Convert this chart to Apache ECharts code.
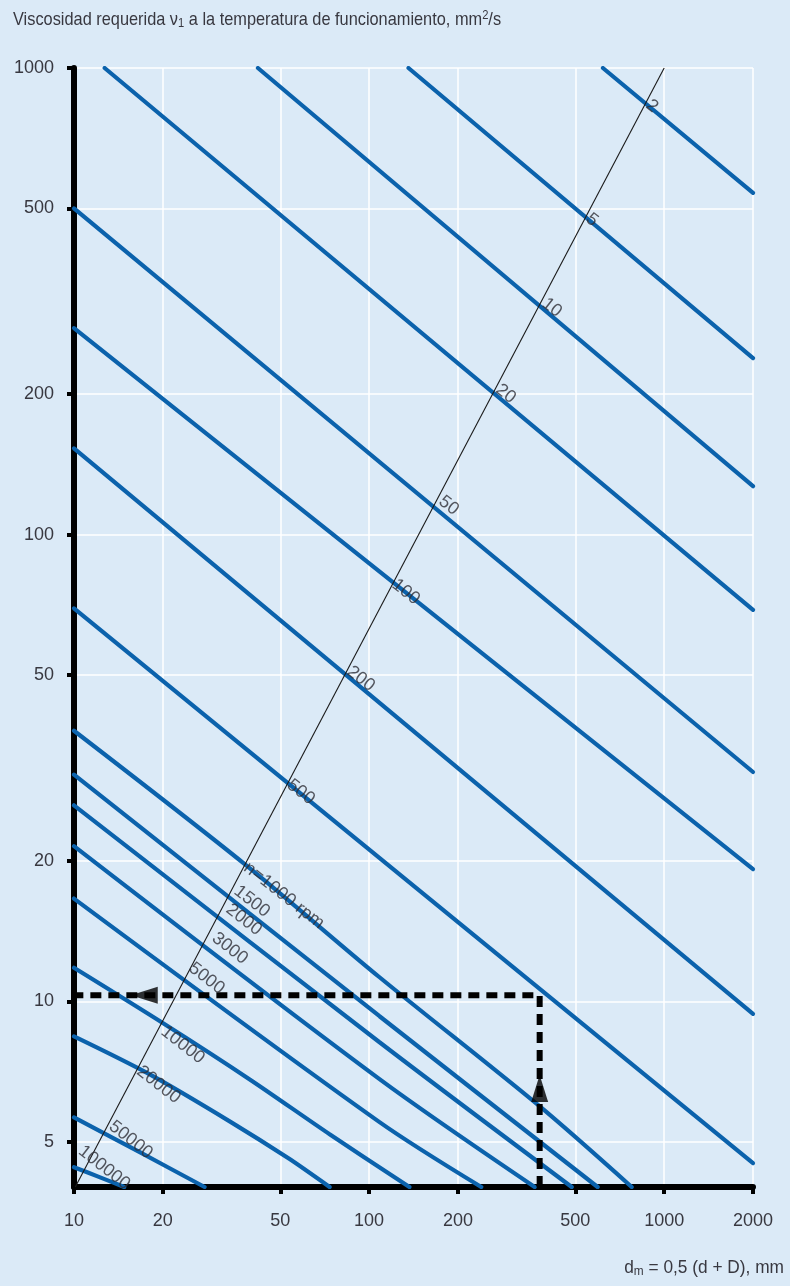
<!DOCTYPE html>
<html><head><meta charset="utf-8">
<script src="https://cdn.jsdelivr.net/npm/echarts@6/dist/echarts.min.js"></script>
<style>html,body{margin:0;padding:0;background:#dbeaf7}#c{width:790px;height:1286px}</style>
</head><body><div id="c"></div>
<script>
// Tick values
const xTicks = [10, 20, 50, 100, 200, 500, 1000, 2000];
const yTicks = [5, 10, 20, 50, 100, 200, 500, 1000];

// Curves: [dm (mm), viscosity (mm2/s)] per speed
const n2 = [[620, 1000], [2000, 540]];
const n5 = [[136, 1000], [2000, 239]];
const n10 = [[42, 1000], [2000, 127]];
const n20 = [[12.7, 1000], [2000, 69]];
const n50 = [[10, 500], [2000, 31]];
const n100 = [[10, 277], [2000, 19.2]];
const n200 = [[10, 153], [2000, 9.4]];
const n500 = [[10, 69.5], [2000, 4.5]];
const n1000 = [[10, 38], [37.8, 19.7], [108.5, 11.26], [378, 5.96], [776, 4]];
const n1500 = [[10, 30.6], [108.5, 9.29], [595, 4]];
const n2000 = [[10, 26.3], [108.5, 8.17], [486, 4]];
const n3000 = [[10, 21.5], [108.5, 6.81], [364, 4]];
const n5000 = [[10, 16.6], [108.5, 5.51], [240, 4]];
const n10000 = [[10, 11.8], [20.3, 8.93], [39.3, 6.81], [73.5, 5.19], [137, 4]];
const n20000 = [[10, 8.41], [18, 6.98], [33.7, 5.53], [53.8, 4.59], [73.5, 4]];
const n50000 = [[10, 5.64], [16.7, 4.75], [27.7, 4]];
const n100000 = [[10, 4.41], [12.2, 4.2], [14.8, 4]];

const curves = [n2, n5, n10, n20, n50, n100, n200, n500, n1000, n1500, n2000, n3000, n5000, n10000, n20000, n50000, n100000];

// Speed labels and where they sit (intersection with the guide line)
const speedLabels = ['2', '5', '10', '20', '50', '100', '200', '500', 'n=1000 rpm', '1500', '2000', '3000', '5000', '10000', '20000', '50000', '100000'];
const labelPoints = [[872, 841], [546, 480], [387, 316], [270, 206.6], [173, 119], [120, 78.9], [84.5, 51.4], [52.9, 29.4],
  [37.8, 19.5], [35, 17.4], [32.9, 15.9], [29.5, 13.8], [24.6, 11.9], [19.8, 8.7], [16.4, 7.15], [13.2, 5.45], [10.4, 4.82]];

// Guide (diagonal) line
const guide = [[10.1, 4], [1000, 1000]];

// Example reading (dashed path)
const example = [[378.5, 4], [378.5, 10.3], [10, 10.3]];
const arrowUp = [378.5, 6.5];
const arrowLeft = [17.3, 10.3];

const L = v => Math.log10(v);
const toLog = arr => arr.map(p => [L(p[0]), L(p[1])]);

const FONT = "'Liberation Sans', Arial, sans-serif";
const BLUE = '#0b62ac';
const TXT = '#383840';

const series = [];
curves.forEach((c) => {
  series.push({
    type: 'line', data: toLog(c), smooth: c.length > 2 ? 0.3 : false, showSymbol: false, symbol: 'none',
    lineStyle: { color: BLUE, width: 4.2, cap: 'round' }, z: 3, silent: true, clip: true
  });
});
series.push({
  type: 'line', data: toLog(guide), showSymbol: false, symbol: 'none',
  lineStyle: { color: '#1a1a1a', width: 1.1 }, z: 4, silent: true
});
series.push({
  type: 'line', data: toLog(example), showSymbol: false, symbol: 'none',
  lineStyle: { color: '#000', width: 6, type: [11, 7] }, z: 5, silent: true
});
series.push({
  type: 'scatter', data: [{ value: [L(arrowUp[0]), L(arrowUp[1])], symbolRotate: 0 }, { value: [L(arrowLeft[0]), L(arrowLeft[1])], symbolRotate: 90 }],
  symbol: 'triangle', symbolSize: [17, 27], itemStyle: { color: '#000' }, z: 6, silent: true
});
series.push({
  type: 'scatter', symbolSize: 1, itemStyle: { color: 'rgba(0,0,0,0)' }, z: 7, silent: true,
  data: labelPoints.map((p, i) => ({ value: [L(p[0]), L(p[1])], name: speedLabels[i] })),
  label: {
    show: true, position: 'right', distance: 1, rotate: -38, align: 'left', verticalAlign: 'middle',
    formatter: p => p.name, color: '#2e2e36', fontFamily: FONT, fontSize: 18
  }
});

const chart = echarts.init(document.getElementById('c'), null, { renderer: 'canvas' });
chart.setOption({
  backgroundColor: '#dbeaf7',
  animation: false,
  grid: { left: 74, right: 37, top: 68, bottom: 99, containLabel: false },
  xAxis: {
    type: 'value', min: L(10), max: L(2000),
    axisLine: { show: true, onZero: false, lineStyle: { color: '#000', width: 6 } },
    axisTick: { show: true, customValues: xTicks.map(L), length: 7, lineStyle: { color: '#000', width: 4 } },
    axisLabel: { customValues: xTicks.map(L), formatter: v => String(Math.round(Math.pow(10, v))), margin: 25, color: TXT, fontFamily: FONT, fontSize: 18 },
    splitLine: { show: true, lineStyle: { color: '#ffffff', width: 1.5 } }
  },
  yAxis: {
    type: 'value', min: L(4), max: L(1000),
    axisLine: { show: true, onZero: false, lineStyle: { color: '#000', width: 6 } },
    axisTick: { show: true, customValues: yTicks.map(L), length: 7, lineStyle: { color: '#000', width: 4 } },
    axisLabel: { customValues: yTicks.map(L), formatter: v => String(Math.round(Math.pow(10, v))), margin: 20, color: TXT, fontFamily: FONT, fontSize: 18 },
    splitLine: { show: true, lineStyle: { color: '#ffffff', width: 1.5 } }
  },
  graphic: [
    {
      type: 'text', x: 13, y: 9, scaleX: 0.86, silent: true,
      style: {
        text: 'Viscosidad requerida ν{sub|1} a la temperatura de funcionamiento, mm{sup|2}/s',
        fill: TXT, font: "19px " + FONT,
        rich: { sub: { fontSize: 13, fontFamily: FONT, padding: [8, 0, 0, 0], fill: TXT }, sup: { fontSize: 13, fontFamily: FONT, padding: [0, 0, 8, 0], fill: TXT } }
      }
    },
    {
      type: 'text', x: 784, y: 1257, scaleX: 0.91, silent: true,
      style: {
        text: 'd{sub|m} = 0,5 (d + D), mm', fill: TXT, font: "19px " + FONT, align: 'right',
        rich: { sub: { fontSize: 13, fontFamily: FONT, padding: [8, 0, 0, 0], fill: TXT } }
      }
    }
  ],
  series: series
});
</script></body></html>
